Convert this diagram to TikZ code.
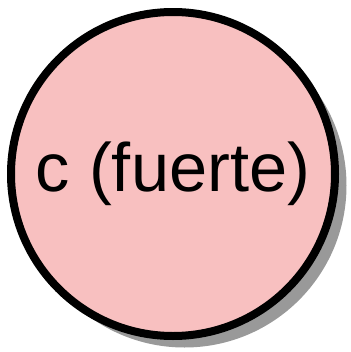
\documentclass[tikz,border=0pt]{standalone}
\usepackage{fontspec}
\setmainfont{Liberation Sans}
\usetikzlibrary{shadows}
\definecolor{rosa}{RGB}{248,192,192}
\tikzset{
    entidad/.style={circle, draw, fill=rosa, line width=0.16cm, minimum size=6.48cm,
                    inner sep=0pt, align=center, font=\fontsize{39}{45}\selectfont,
                    drop shadow={shadow xshift=0.23cm, shadow yshift=-0.23cm,
                                 fill=black!40, opacity=1}},
}

\begin{document}
\begin{tikzpicture}

    % page frame
    \useasboundingbox (0,0) rectangle (7,-7.04);

    % the node
    \node[entidad] (fuerte) at (3.46,-3.48) {c (fuerte)};

\end{tikzpicture}
\end{document}
